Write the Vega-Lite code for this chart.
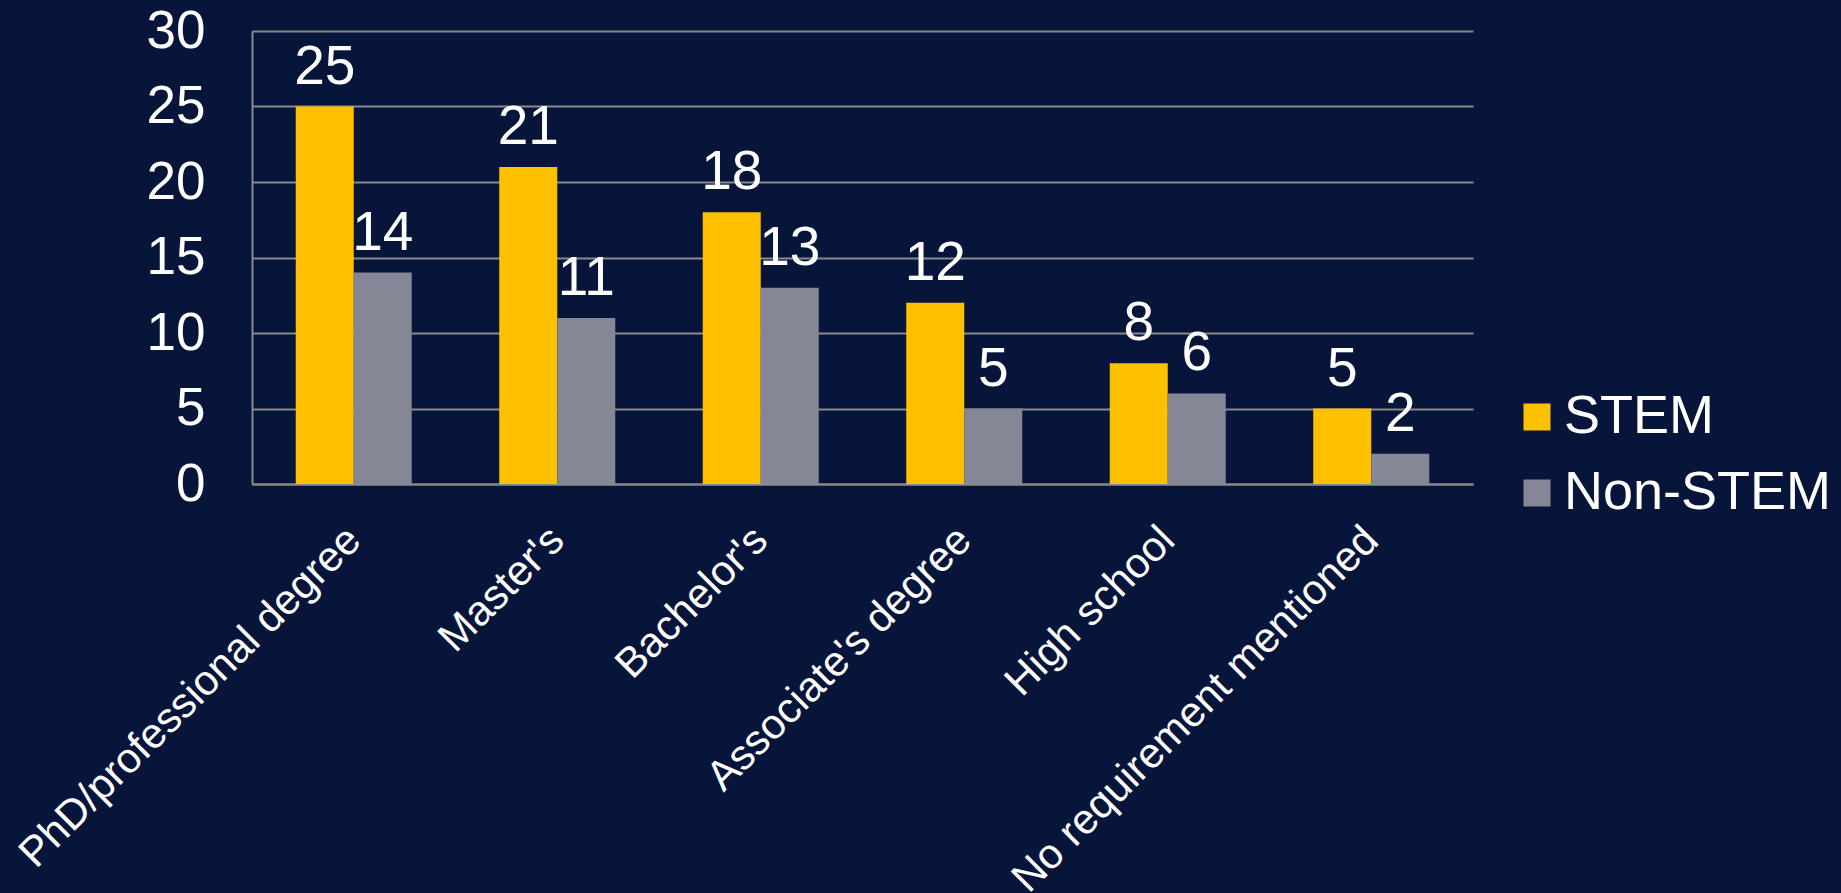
{
  "$schema": "https://vega.github.io/schema/vega-lite/v6.json",
  "width": 1221,
  "height": 453,
  "autosize": "none",
  "padding": {"left": 252, "top": 31, "right": 368, "bottom": 409},
  "background": "#07153b",
  "config": {
    "view": {"stroke": null},
    "font": "Liberation Sans",
    "text": {"font": "Liberation Sans"}
  },
  "data": {
    "values": [
      {"level": "PhD/professional degree", "group": "STEM", "value": 25},
      {"level": "PhD/professional degree", "group": "Non-STEM", "value": 14},
      {"level": "Master's", "group": "STEM", "value": 21},
      {"level": "Master's", "group": "Non-STEM", "value": 11},
      {"level": "Bachelor's", "group": "STEM", "value": 18},
      {"level": "Bachelor's", "group": "Non-STEM", "value": 13},
      {"level": "Associate's degree", "group": "STEM", "value": 12},
      {"level": "Associate's degree", "group": "Non-STEM", "value": 5},
      {"level": "High school", "group": "STEM", "value": 8},
      {"level": "High school", "group": "Non-STEM", "value": 6},
      {"level": "No requirement mentioned", "group": "STEM", "value": 5},
      {"level": "No requirement mentioned", "group": "Non-STEM", "value": 2}
    ]
  },
  "encoding": {
    "x": {
      "field": "level",
      "type": "nominal",
      "sort": null,
      "scale": {"paddingInner": 0.43, "paddingOuter": 0.215},
      "axis": {
        "title": null,
        "labelAngle": -45,
        "labelAlign": "right",
        "labelBaseline": "middle",
        "labelFontSize": 42,
        "labelColor": "#ffffff",
        "labelFont": "Liberation Sans",
        "labelPadding": 49,
        "ticks": false,
        "tickSize": 0,
        "domainColor": "#8a8a8a",
        "domainWidth": 2,
        "labelLimit": 1000
      }
    },
    "xOffset": {"field": "group", "type": "nominal", "sort": ["STEM", "Non-STEM"]},
    "y": {
      "field": "value",
      "type": "quantitative",
      "scale": {"domain": [0, 30], "nice": false},
      "axis": {
        "title": null,
        "values": [0, 5, 10, 15, 20, 25, 30],
        "labelFontSize": 53,
        "labelColor": "#ffffff",
        "labelFont": "Liberation Sans",
        "labelPadding": 47,
        "ticks": false,
        "tickSize": 0,
        "grid": true,
        "gridColor": "#8a8a8a",
        "gridWidth": 2,
        "domainColor": "#8a8a8a",
        "domainWidth": 2
      }
    }
  },
  "layer": [
    {
      "mark": {"type": "bar"},
      "encoding": {
        "color": {
          "field": "group",
          "type": "nominal",
          "sort": ["STEM", "Non-STEM"],
          "scale": {"domain": ["STEM", "Non-STEM"], "range": ["#ffc000", "#868796"]},
          "legend": {
            "title": null,
            "orient": "none",
            "legendX": 1258,
            "legendY": 359,
            "symbolType": "square",
            "symbolSize": 729,
            "symbolStrokeWidth": 0,
            "labelFontSize": 54,
            "labelColor": "#ffffff",
            "labelFont": "Liberation Sans",
            "labelOffset": 0,
            "rowPadding": 22,
            "padding": 0,
            "labelLimit": 1000
          }
        }
      }
    },
    {
      "mark": {"type": "text", "baseline": "alphabetic", "dy": -23, "fontSize": 55, "color": "#ffffff", "font": "Liberation Sans"},
      "encoding": {
        "text": {"field": "value", "type": "quantitative"}
      }
    }
  ]
}
